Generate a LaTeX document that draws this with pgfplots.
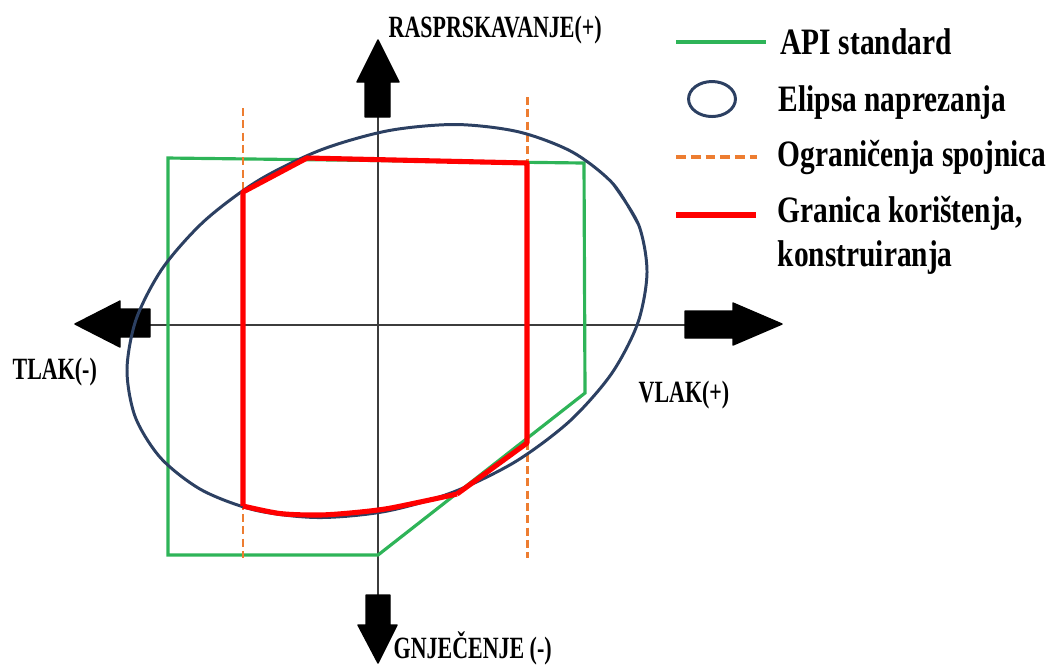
\documentclass[border=0pt]{standalone}
\usepackage{pgfplots}
\pgfplotsset{compat=1.18}
\usepackage{fontspec}
\setmainfont{Liberation Serif}
\newfontfamily\lblfont[FakeStretch=0.71]{Liberation Serif}
\newfontfamily\legfont[FakeStretch=0.79]{Liberation Serif}

\definecolor{ApiGreen}{RGB}{46,180,88}
\definecolor{EllBlue} {RGB}{44,64,98}
\definecolor{LimOrange}{RGB}{237,125,49}
\definecolor{AxGray}  {RGB}{60,60,60}

\tikzset{
  lbl/.style={anchor=west, inner sep=0pt, font=\lblfont\bfseries\fontsize{8.8}{10}\selectfont},
  leg/.style={anchor=west, inner sep=0pt, font=\legfont\bfseries\fontsize{10.6}{12}\selectfont},
}

\begin{document}
\begin{tikzpicture}
  \begin{axis}[
    name=ax,
    width=10.54cm, height=6.65cm, scale only axis,
    hide axis, clip=false,
    xmin=0, xmax=1054, ymin=0, ymax=665,
    y dir=reverse,
  ]
  % coordinate axes
  \addplot[AxGray, line width=0.65pt] coordinates {(378,117) (378,595)};
  \addplot[AxGray, line width=0.65pt] coordinates {(150,325) (685,325)};

  % block arrows
  \addplot[fill=black, draw=black, line join=round] coordinates
    {(365,117) (390,117) (390,82) (399,82) (378,40) (357,82) (365,82)} -- cycle;
  \addplot[fill=black, draw=black, line join=round] coordinates
    {(366,595) (390,595) (390,625) (397,625) (378,663) (358,625) (366,625)} -- cycle;
  \addplot[fill=black, draw=black, line join=round] coordinates
    {(150,309) (150,337) (120,337) (120,347) (75,324) (120,301) (120,309)} -- cycle;
  \addplot[fill=black, draw=black, line join=round] coordinates
    {(685,311) (685,338) (733,338) (733,345) (782,324) (733,303) (733,311)} -- cycle;

  % API standard
  \addplot[ApiGreen, line width=0.9pt] coordinates
    {(168,158) (584,163) (585,393) (378,555) (168,555)} -- cycle;

  % coupling limits
  \addplot[LimOrange, line width=0.85pt, dash pattern=on 2.3pt off 1.2pt] coordinates {(243,108) (243,558)};
  \addplot[LimOrange, line width=0.85pt, dash pattern=on 2.3pt off 1.2pt] coordinates {(527,97) (527,558)};

  % stress ellipse
  \addplot[EllBlue, line width=0.85pt, smooth] coordinates {
    (638.6,224.7) (613.0,183.7) (572.1,151.9) (518.5,131.8) (456.0,124.5)
    (388.7,130.6) (321.4,149.7) (258.5,180.4) (204.4,220.9) (162.7,268.0)
    (136.3,318.8) (127.0,369.7) (135.4,417.3) (161.0,458.3) (201.9,490.1)
    (255.5,510.2) (318.0,517.5) (385.3,511.4) (452.6,492.3) (515.5,461.6)
    (569.6,421.2) (611.3,374.0) (637.7,323.3) (647.0,272.3) (638.6,224.7)
    (613.0,183.7)};

  % usage / design limit
  \addplot[red, line width=1.45pt, line join=round] coordinates
    {(243,506) (243,192) (307,158) (527,163) (527,443) (457,494)};
  \addplot[red, line width=1.45pt, smooth] coordinates
    {(457,494) (420,502) (385,509) (350,513) (318,515) (280,513.5) (243,506)};

  % legend samples
  \addplot[ApiGreen, line width=0.9pt] coordinates {(676,42) (766,42)};
  \addplot[only marks, mark=o, mark size=4.98pt,
    mark options={xscale=1.34, draw=EllBlue, line width=0.85pt}] coordinates {(712,99)};
  \addplot[LimOrange, line width=1pt, dash pattern=on 2.8pt off 1.4pt] coordinates {(676,157) (757,157)};
  \addplot[red, line width=1.45pt] coordinates {(676,215) (756,215)};

  % labels
  \node[lbl] at (axis cs:388,30)  {RASPRSKAVANJE(+)};
  \node[lbl] at (axis cs:393,648) {GNJEČENJE (-)};
  \node[lbl] at (axis cs:12,372)  {TLAK(-)};
  \node[lbl] at (axis cs:638,395) {VLAK(+)};

  \node[leg] at (axis cs:780,42)  {API standard};
  \node[leg] at (axis cs:778,103) {Elipsa naprezanja};
  \node[leg] at (axis cs:777,157) {Ograničenja spojnica};
  \node[leg] at (axis cs:777,213) {Granica korištenja,};
  \node[leg] at (axis cs:777,258) {konstruiranja};
  \end{axis}
  \pgfresetboundingbox
  \useasboundingbox (ax.south west) rectangle (ax.north east);
\end{tikzpicture}
\end{document}
